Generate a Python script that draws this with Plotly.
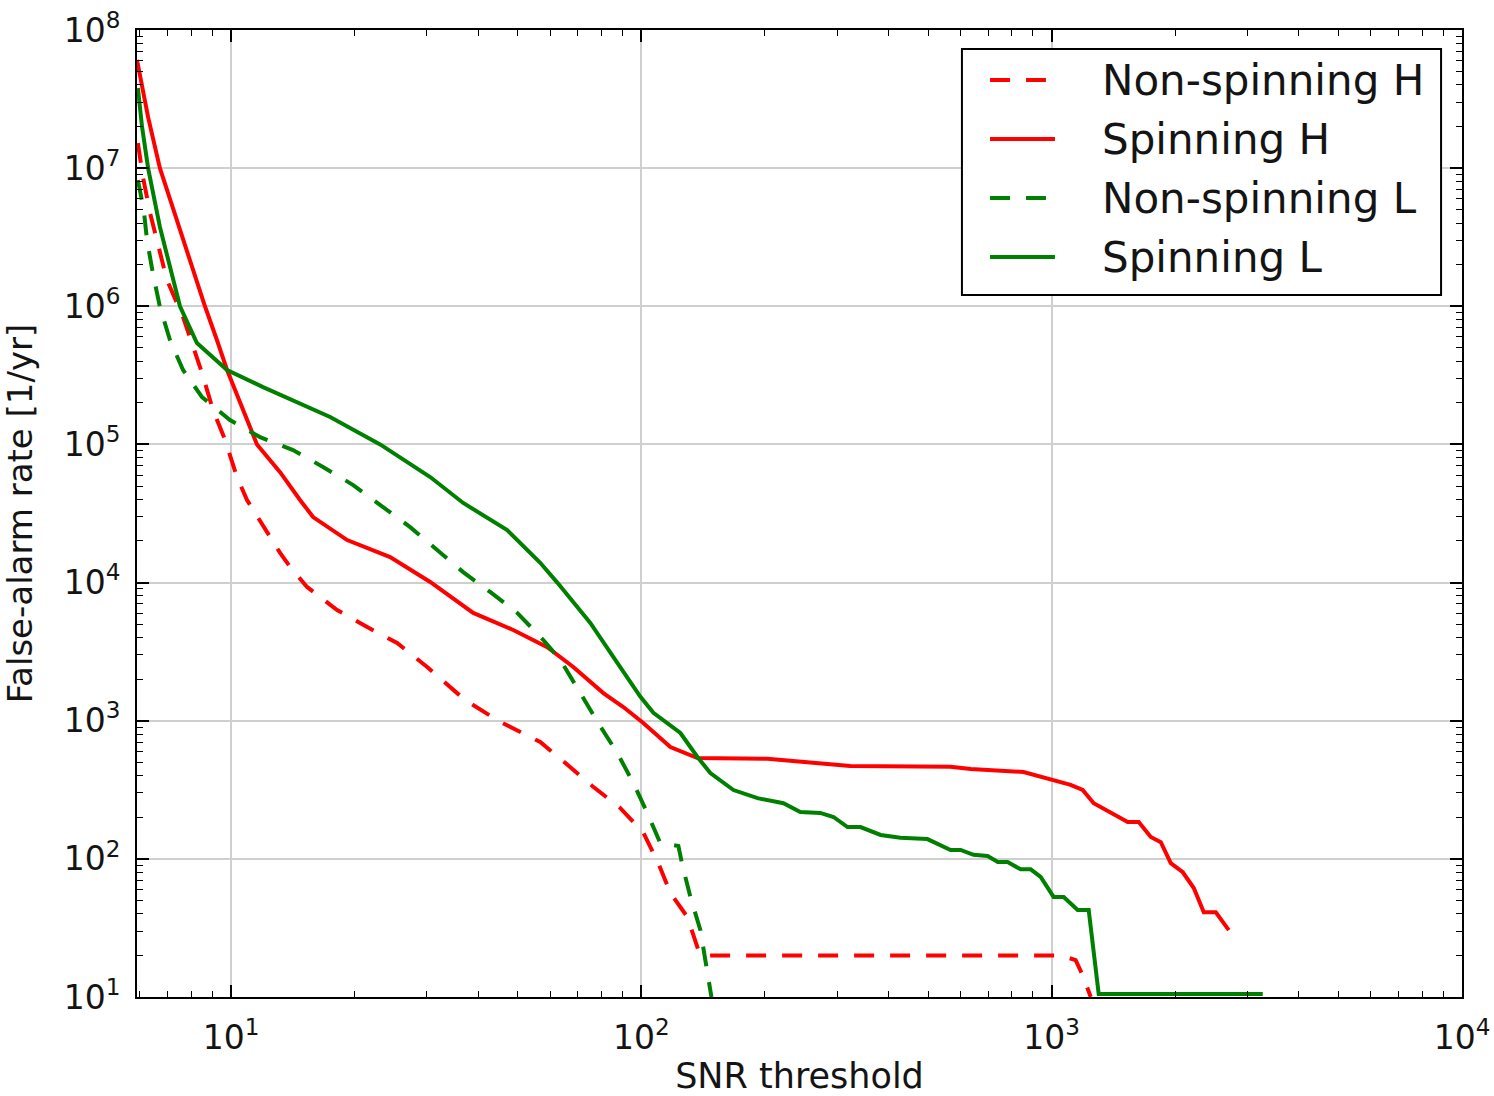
import plotly.graph_objects as go

# False-alarm rate versus SNR threshold for four template banks / detectors
snr_nonspin_h = [5.93, 6.10, 6.35, 6.98, 7.64, 8.50, 9.04, 9.67, 10.34, 10.94, 13.17, 13.93,
                 15.32, 18.14, 21.47, 25.4, 30.06, 37.2, 45.3, 56.7, 65.3, 75.9, 88.9, 101,
                 110, 117.7, 129.5, 137.7, 140.9, 1052, 1144, 1190, 1245]
far_nonspin_h = [1.52e7, 8.63e6, 4.73e6, 1.55e6, 8.36e5, 3.29e5, 1.77e5, 1.08e5, 5.81e4, 3.96e4,
                 1.64e4, 1.3e4, 9.3e3, 6.33e3, 4.77e3, 3.65e3, 2.45e3, 1.41e3, 980, 701, 494,
                 337, 233, 156, 93, 56.6, 37.9, 21.9, 20, 20, 18.5, 14.4, 10]

snr_spin_h = [5.9, 6.28, 6.71, 7.51, 8.64, 9.24, 9.78, 11.57, 13.17, 14.73, 15.85, 19.19, 24.42,
              30.58, 38.93, 48.74, 58.98, 68.26, 80.8, 90.4, 101.1, 117.7, 137, 203, 323, 567,
              635, 854, 995, 1112, 1190, 1266, 1532, 1630, 1744, 1845, 1951, 2087, 2220, 2348,
              2512, 2702]
far_spin_h = [6.07e7, 2.34e7, 1.0e7, 3.56e6, 1.0e6, 5.7e5, 3.46e5, 1.0e5, 6.3e4, 3.96e4, 2.98e4,
              2.03e4, 1.53e4, 1.01e4, 6.03e3, 4.54e3, 3.41e3, 2.45e3, 1585, 1256, 962, 645, 537,
              530, 470, 465, 447, 425, 372, 343, 315, 253, 185, 185, 144, 132, 93, 80, 61.5, 41,
              41, 30.5]

snr_nonspin_l = [5.93, 6.13, 6.24, 6.45, 6.71, 7.1, 7.64, 8.50, 9.94, 11.77, 14.16, 16.76, 19.85,
                 23.49, 27.33, 31.8, 36.8, 42.8, 49.85, 57.7, 63.5, 71, 78.5, 87.4, 95.6, 103.4,
                 111.2, 123.1, 125.9, 131.7, 139.3, 143.2, 148.2]
far_nonspin_l = [8.2e6, 4.98e6, 3.02e6, 1.74e6, 9.9e5, 5.7e5, 3.46e5, 2.2e5, 1.5e5, 1.13e5, 9.1e4,
                 6.87e4, 5.08e4, 3.52e4, 2.52e4, 1.72e4, 1.19e4, 8.55e3, 6.03e3, 3.84e3, 2.75e3,
                 1585, 962, 583, 354, 215, 130, 124, 90, 53, 30.5, 18.5, 10]

snr_spin_l = [5.93, 6.07, 6.28, 6.71, 7.51, 8.26, 9.78, 11.97, 17.44, 23.09, 30.58, 36.8, 47.1,
              56.7, 62.4, 75.1, 87.4, 99.5, 107, 124.5, 137, 147.3, 167.7, 191.9, 222, 244, 273,
              294, 318, 342, 383, 428, 498, 567, 600, 645, 698, 739, 781, 840, 889, 940, 1011,
              1070, 1157, 1231, 1302, 3269]
far_spin_l = [3.8e7, 1.99e7, 1.0e7, 3.75e6, 1.0e6, 5.42e5, 3.46e5, 2.6e5, 1.58e5, 1.0e5, 5.81e4,
              3.77e4, 2.4e4, 1.39e4, 1.0e4, 5.1e3, 2.62e3, 1.49e3, 1.14e3, 815, 546, 418, 315,
              275, 253, 218, 215, 201, 170, 170, 149, 142, 139, 116, 116, 107, 105, 95, 95, 84,
              84, 74, 53, 53, 42.6, 42.6, 10.5, 10.5]

DASH = "20px,16px"
series = [
    ("Non-spinning H", snr_nonspin_h, far_nonspin_h, "#ff0000", DASH),
    ("Spinning H", snr_spin_h, far_spin_h, "#ff0000", "solid"),
    ("Non-spinning L", snr_nonspin_l, far_nonspin_l, "#008000", DASH),
    ("Spinning L", snr_spin_l, far_spin_l, "#008000", "solid"),
]

x_major = [10, 100, 1000, 10000]
x_labels = ["10<sup>1</sup>", "10<sup>2</sup>", "10<sup>3</sup>", "10<sup>4</sup>"]
y_major = [10 ** k for k in range(1, 9)]
y_labels = [f"10<sup>{k}</sup>" for k in range(1, 9)]

FONT = "DejaVu Sans"
TEXT = "#141414"

fig = go.Figure()
for name, xs, ys, color, dash in series:
    fig.add_trace(go.Scatter(
        x=xs, y=ys, mode="lines", name=name, showlegend=False,
        line=dict(color=color, width=4, dash=dash),
    ))

# Legend box drawn in paper coordinates: frame, line samples and labels
box_x0, box_x1, box_y0, box_y1 = 0.6226, 0.9842, 0.7260, 0.9803
row_y = [0.9483, 0.8873, 0.8263, 0.7653]
fig.add_shape(type="rect", xref="paper", yref="paper",
              x0=box_x0, x1=box_x1, y0=box_y0, y1=box_y1,
              line=dict(color="black", width=2), fillcolor="white", layer="above")
for (name, _, _, color, dash), ry in zip(series, row_y):
    x_end = 0.6860 if dash != "solid" else 0.6928
    fig.add_shape(type="line", xref="paper", yref="paper",
                  x0=0.6438, x1=x_end, y0=ry, y1=ry,
                  line=dict(color=color, width=4, dash=dash), layer="above")
    fig.add_annotation(text=name, xref="paper", yref="paper", x=0.7268, y=ry - 0.001,
                       xanchor="left", yanchor="middle", showarrow=False,
                       font=dict(family=FONT, size=42, color=TEXT))

x_minor = [m * 10 ** k for k in range(0, 4) for m in range(2, 10) if 5.9 <= m * 10 ** k <= 10000]
y_minor = [m * 10 ** k for k in range(1, 8) for m in range(2, 10)]

axis_common = dict(
    type="log", showline=True, linecolor="black", linewidth=2, mirror="allticks",
    ticks="inside", ticklen=12, tickwidth=1.5, tickcolor="black",
    showgrid=True, gridcolor="#cfcfcf", gridwidth=1.5, zeroline=False, automargin=False,
    tickfont=dict(family=FONT, size=33, color=TEXT),
)

fig.update_xaxes(
    **axis_common,
    range=[0.7709, 4],
    tickvals=x_major, ticktext=x_labels, ticklabelstandoff=10,
    minor=dict(tickvals=x_minor, ticks="inside", ticklen=6, tickwidth=1.2,
               tickcolor="black", showgrid=False),
    title=dict(text="SNR threshold", font=dict(family=FONT, size=35, color=TEXT),
               standoff=24),
)
fig.update_yaxes(
    **axis_common,
    range=[1, 8],
    tickvals=y_major, ticktext=y_labels, ticklabelstandoff=8,
    minor=dict(tickvals=y_minor, ticks="inside", ticklen=6, tickwidth=1.2,
               tickcolor="black", showgrid=False),
    title=dict(text="False-alarm rate [1/yr]", font=dict(family=FONT, size=34, color=TEXT),
               standoff=22),
)

fig.update_layout(
    width=1494, height=1096,
    margin=dict(l=137, r=32, t=30, b=99),
    plot_bgcolor="white", paper_bgcolor="white",
    showlegend=False,
)

fig.write_html("out.html")
